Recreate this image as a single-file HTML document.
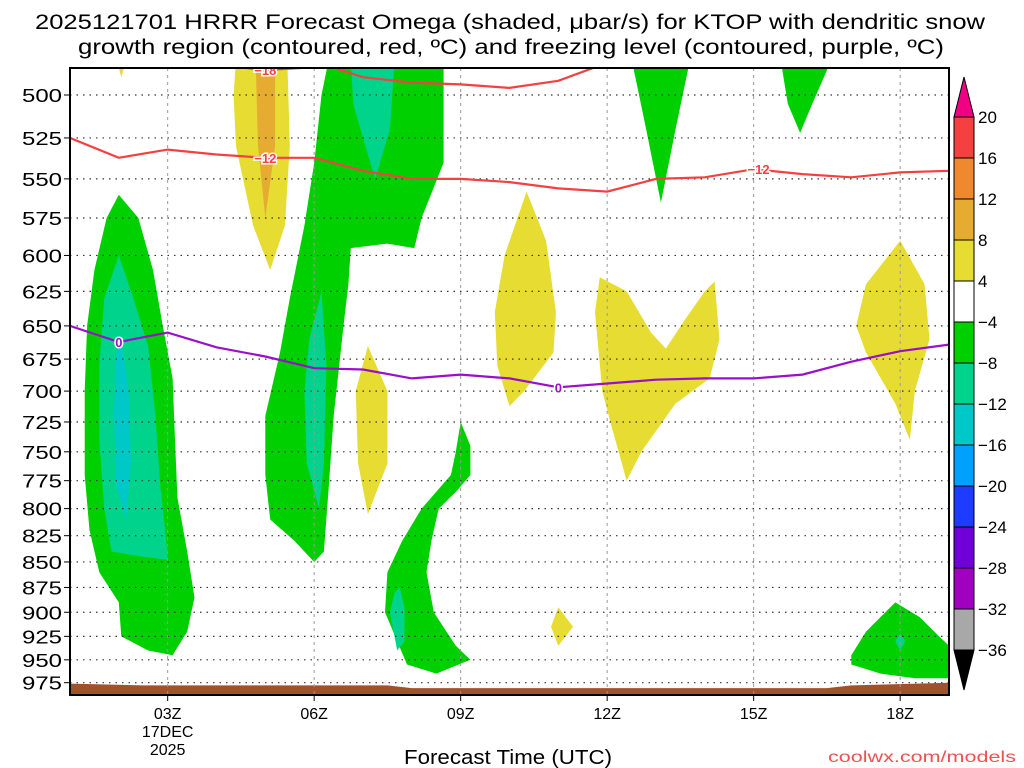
<!DOCTYPE html>
<html><head><meta charset="utf-8"><style>
html,body{margin:0;padding:0;background:#fff;}
svg{display:block;font-family:"Liberation Sans",sans-serif;}
</style></head><body>
<svg id="chart" width="1024" height="768" viewBox="0 0 1024 768">
<text x="510" y="29" text-anchor="middle" font-size="21" textLength="950" lengthAdjust="spacingAndGlyphs" fill="#000">2025121701 HRRR Forecast Omega (shaded, μbar/s) for KTOP with dendritic snow</text>
<text x="511" y="54" text-anchor="middle" font-size="21" textLength="866" lengthAdjust="spacingAndGlyphs" fill="#000">growth region (contoured, red, ºC) and freezing level (contoured, purple, ºC)</text>
<g id="fills"></g>
<g id="grid"></g>
<g id="contours"></g>
<g id="axes"></g>
<g id="cbar"></g>
<text x="508" y="764" text-anchor="middle" font-size="20" textLength="208" lengthAdjust="spacingAndGlyphs">Forecast Time (UTC)</text>
<text x="1016" y="762" text-anchor="end" font-size="16" textLength="188" lengthAdjust="spacingAndGlyphs" fill="#f05050">coolwx.com/models</text>
</svg>
<script>
// ---- data ----
const pressureTicks=[500,525,550,575,600,625,650,675,700,725,750,775,800,825,850,875,900,925,950,975];
const timeTicks=[3,6,9,12,15,18];
const timeLabels=["03Z","06Z","09Z","12Z","15Z","18Z"];
const cbarLevels=[20,16,12,8,4,-4,-8,-12,-16,-20,-24,-28,-32,-36];
const cbarColors=["#f44040","#f08830","#e6ac32","#e6dc32","#ffffff","#00d000","#00d48c","#00c8c8","#00a0ff","#1e3cff","#7000d8","#a000c0","#a8a8a8"];
// shaded regions: [hour, pressure]
const green1=[[2.0,560],[2.4,575],[2.7,610],[2.9,650],[3.1,690],[3.15,740],[3.2,790],[3.4,840],[3.55,885],[3.4,920],[3.1,945],[2.6,940],[2.05,925],[2.0,890],[1.6,860],[1.4,820],[1.3,770],[1.3,700],[1.35,650],[1.5,610],[1.75,575]];
const teal1=[[2.0,600],[2.3,630],[2.6,665],[2.75,720],[2.85,780],[2.95,820],[3.0,848],[2.5,845],[1.85,840],[1.7,800],[1.6,740],[1.6,680],[1.7,630]];
const cyan1=[[2.05,660],[2.2,700],[2.25,760],[2.15,810],[1.95,780],[1.9,720],[1.95,670]];
const green2=[[6.3,480],[8.65,480],[8.65,540],[8.2,575],[8.05,595],[7.5,592],[6.75,595],[6.7,620],[6.6,650],[6.4,720],[6.3,780],[6.2,840],[6.0,850],[5.6,830],[5.1,810],[5.0,770],[5.0,720],[5.3,670],[5.5,630],[5.8,580],[6.0,540],[6.15,500]];
const teal2a=[[6.75,480],[7.65,480],[7.55,520],[7.25,550],[7.05,530],[6.8,505]];
const teal2b=[[5.9,660],[6.15,625],[6.25,680],[6.2,760],[6.1,800],[5.85,760],[5.8,700]];
const green3=[[9.0,725],[9.2,745],[9.2,770],[8.9,785],[8.55,800],[8.4,830],[8.3,860],[8.45,900],[8.9,935],[9.2,950],[8.5,965],[7.9,955],[7.45,900],[7.5,860],[7.8,830],[8.2,800],[8.8,770],[8.9,750]];
const teal3=[[7.75,875],[7.85,895],[7.85,930],[7.7,940],[7.55,900],[7.65,880]];
const green4=[[12.5,480],[13.7,480],[13.4,520],[13.1,565],[12.8,520]];
const green5=[[15.55,480],[16.6,480],[16.2,505],[15.95,522],[15.7,505]];
const green6=[[17.0,945],[17.3,920],[17.9,890],[18.4,905],[18.8,925],[19,935],[19,970],[18.3,970],[17.6,965],[17.0,955]];
const teal6=[[18.0,922],[18.1,930],[18.0,940],[17.9,930]];
const yellow1=[[4.4,480],[5.45,480],[5.5,530],[5.4,580],[5.1,610],[4.75,580],[4.4,530],[4.35,500]];
const orange1=[[4.8,480],[5.2,480],[5.2,530],[5.0,575],[4.85,530]];
const yellow2=[[1.95,480],[2.15,480],[2.05,490]];
const yellow3=[[7.1,665],[7.5,700],[7.5,760],[7.1,805],[6.9,760],[6.85,700]];
const yellow4=[[10.35,558],[10.75,590],[10.95,640],[10.9,670],[10.3,700],[10.0,712],[9.75,680],[9.7,640],[9.9,600]];
const yellow5=[[11.85,615],[12.4,625],[12.9,655],[13.2,667],[13.6,645],[14.0,625],[14.2,618],[14.3,660],[14.1,690],[13.4,710],[12.7,750],[12.4,775],[12.1,730],[11.9,700],[11.75,640]];
const yellow6=[[11.0,895],[11.3,915],[11.0,935],[10.85,915]];
const yellow7=[[18.0,590],[18.5,620],[18.6,660],[18.3,700],[18.2,740],[17.9,710],[17.3,670],[17.1,650],[17.3,620]];
const groundTop=[[1,976],[2.5,978],[7.5,978],[8,981],[16.5,981],[17,978],[19,975]];
// contours
const red12=[[1,525],[2,537],[3,532],[4,535],[5,537],[6,537],[7,545],[8,550],[9,550],[10,552],[11,556],[12,558],[13,550],[14,549],[15,544],[16,547],[17,549],[18,546],[19,545]];
const red18=[[4.3,484],[5,486],[6.3,484],[7,490],[8,493],[9,494],[10,496],[11,492],[11.8,484]];
const red18b=[[15,484],[16.5,485]];
const freeze0=[[1,650],[2,662],[3,655],[4,666],[5,673],[6,682],[7,683],[8,690],[9,687],[10,690],[11,697],[12,694],[13,691],[14,690],[15,690],[16,687],[17,677],[18,669],[19,664]];

// ---- axes ----
const X0=70,X1=949,Y0=68,Y1=695;
const xs=h=>X0+(h-1)*(X1-X0)/18;
const ys=p=>95+880*Math.log(p/500);
const NS="http://www.w3.org/2000/svg";
function mk(tag,attrs,parent){const e=document.createElementNS(NS,tag);for(const k in attrs)e.setAttribute(k,attrs[k]);parent.appendChild(e);return e;}
const pts=a=>a.map(d=>xs(d[0]).toFixed(1)+","+ys(d[1]).toFixed(1)).join(" ");
const svg=document.getElementById('chart');
const defs=mk('defs',{},svg);
const cp=mk('clipPath',{id:'plotclip'},defs);
mk('rect',{x:X0,y:Y0,width:X1-X0,height:Y1-Y0},cp);
const fills=document.getElementById('fills');fills.setAttribute('clip-path','url(#plotclip)');
const shapes=[[green1,"#00d000","green-region-1"],[teal1,"#00d48c","teal-region-1"],[cyan1,"#00c8c8","cyan-region-1"],
[green2,"#00d000","green-region-2"],[teal2a,"#00d48c","teal-region-2a"],[teal2b,"#00d48c","teal-region-2b"],
[green3,"#00d000","green-region-3"],[teal3,"#00d48c","teal-region-3"],[green4,"#00d000","green-region-4"],[green5,"#00d000","green-region-5"],
[green6,"#00d000","green-region-6"],[teal6,"#00d48c","teal-region-6"],
[yellow1,"#e6dc32","yellow-region-1"],[orange1,"#e6ac32","orange-region-1"],[yellow2,"#e6dc32","yellow-region-2"],[yellow3,"#e6dc32","yellow-region-3"],
[yellow4,"#e6dc32","yellow-region-4"],[yellow5,"#e6dc32","yellow-region-5"],[yellow6,"#e6dc32","yellow-region-6"],[yellow7,"#e6dc32","yellow-region-7"]];
shapes.forEach(s=>{const e=mk('polygon',{points:pts(s[0]),fill:s[1],"stroke-linejoin":"round"},fills);

});
const g=[...groundTop,[19,1000],[1,1000]];
const ge=mk('polygon',{points:pts(g),fill:"#a0522d"},fills);



const grid=document.getElementById('grid');
pressureTicks.forEach(p=>{const l=mk('line',{x1:X0,x2:X1,y1:ys(p),y2:ys(p),stroke:"#333","stroke-width":1.2,"stroke-dasharray":"1.5,5"},grid);

});
timeTicks.forEach(h=>{const l=mk('line',{x1:xs(h),x2:xs(h),y1:Y0,y2:Y1,stroke:"#999","stroke-width":1,"stroke-dasharray":"3,4"},grid);

});

const con=document.getElementById('contours');con.setAttribute('clip-path','url(#plotclip)');
[[red12,"#f44040","contour-minus12"],[red18,"#f44040","contour-minus18"],[red18b,"#f44040","contour-minus18b"],[freeze0,"#9a10c8","freezing-level"]].forEach(c=>{
const e=mk('polyline',{points:pts(c[0]),fill:"none",stroke:c[1],"stroke-width":2.2},con);

});
function clabel(t,h,p,col,nm){
const e=mk('text',{x:xs(h),y:ys(p)+5,"text-anchor":"middle","font-size":13,"font-weight":"bold",fill:col,stroke:"#fff","stroke-width":3,"paint-order":"stroke"},con);e.textContent=t;

}
clabel("−12",5,537,"#f44040","label-minus12-a");clabel("−12",15.1,544,"#f44040","label-minus12-b");
clabel("−18",5,486,"#f44040","label-minus18");
clabel("0",2,662,"#9a10c8","label-zero-a");clabel("0",11,697,"#9a10c8","label-zero-b");

const ax=document.getElementById('axes');
mk('rect',{x:X0,y:Y0,width:X1-X0,height:Y1-Y0,fill:"none",stroke:"#000","stroke-width":2},ax);
pressureTicks.forEach(p=>{mk('line',{x1:X0-6,x2:X0,y1:ys(p),y2:ys(p),stroke:"#000"},ax);
const t=mk('text',{x:X0-8,y:ys(p)+7,"text-anchor":"end","font-size":18,textLength:40,lengthAdjust:"spacingAndGlyphs"},ax);t.textContent=p;

});
timeTicks.forEach((h,i)=>{mk('line',{x1:xs(h),x2:xs(h),y1:Y1,y2:Y1+6,stroke:"#000"},ax);
const t=mk('text',{x:xs(h),y:719,"text-anchor":"middle","font-size":16},ax);t.textContent=timeLabels[i];

});
[["17DEC",737],["2025",755]].forEach(a=>{const t=mk('text',{x:xs(3),y:a[1],"text-anchor":"middle","font-size":16},ax);t.textContent=a[0];

});

const cb=document.getElementById('cbar');
const CX=954,CW=20,CT=117,CS=41;
mk('polygon',{points:`${CX},${CT} ${CX+CW/2},${CT-40} ${CX+CW},${CT}`,fill:"#f00082",stroke:"#000"},cb);
cbarColors.forEach((c,i)=>{const r=mk('rect',{x:CX,y:CT+i*CS,width:CW,height:CS,fill:c,stroke:"#000","stroke-width":1},cb);

});
const yb=CT+cbarColors.length*CS;
mk('polygon',{points:`${CX},${yb} ${CX+CW/2},${yb+40} ${CX+CW},${yb}`,fill:"#000",stroke:"#000"},cb);
cbarLevels.forEach((v,i)=>{const t=mk('text',{x:CX+CW+4,y:CT+i*CS+6,"font-size":17},cb);t.textContent=v<0?"−"+(-v):v;

});
</script>
</body></html>
